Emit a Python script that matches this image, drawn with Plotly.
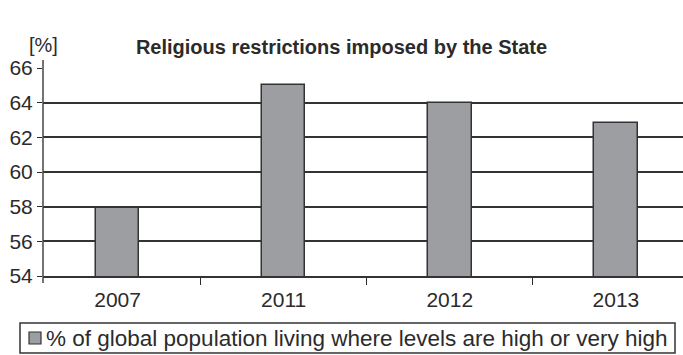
import plotly.graph_objects as go

years = ["2007", "2011", "2012", "2013"]
values = [57.9, 65.0, 64.0, 62.85]
y_ticks = [54, 56, 58, 60, 62, 64, 66]
series_name = "% of global population living where levels are high or very high"
title = "Religious restrictions imposed by the State"

xpos = list(range(len(years)))
FONT = "Liberation Sans, Arial, sans-serif"
DARK = "#2b2b2b"
BAR_FILL = "#9d9ea2"
BAR_LINE = "#333333"

PW, PH = 640, 208  # plot area size in px
L, T = 43, 68


def px_x(px):
    return (px - L) / PW


def px_y(py):
    return (T + PH - py) / PH


fig = go.Figure()
fig.add_trace(go.Bar(
    x=xpos, y=values, base=0, name=series_name, width=0.262,
    marker=dict(color=BAR_FILL, line=dict(color=BAR_LINE, width=1.5)),
    showlegend=False,
))

fig.update_layout(
    width=683, height=355,
    margin=dict(l=L, r=0, t=T, b=355 - T - PH),
    paper_bgcolor="white", plot_bgcolor="white",
    font=dict(family=FONT, size=20, color=DARK),
    title=dict(text="<b>" + title + "</b>", x=0.5, xanchor="center",
               y=1 - 47 / 355, yanchor="middle",
               font=dict(family=FONT, size=20, color=DARK)),
    xaxis=dict(range=[-0.449, 3.404], tickvals=xpos, ticktext=years,
               showgrid=False, zeroline=False, showline=True,
               linecolor="#333333", linewidth=1.5, ticks="",
               ticklabelstandoff=4,
               tickfont=dict(size=21, color=DARK),
               minor=dict(tickvals=[0.5, 1.5, 2.5], ticks="outside",
                          ticklen=7, tickwidth=1.3, tickcolor=DARK,
                          showgrid=False)),
    yaxis=dict(range=[54, 66], tickvals=y_ticks, showgrid=True,
               gridcolor="#333333", gridwidth=1.5, zeroline=False,
               showline=False, ticks="outside", ticklen=5,
               tickcolor=DARK, tickwidth=1.3,
               tickfont=dict(size=21, color=DARK)),
    bargap=0,
    showlegend=False,
)

# y axis line extending slightly beyond the plot area
fig.add_shape(type="line", xref="paper", yref="paper",
              x0=0, x1=0, y0=px_y(283), y1=px_y(60),
              line=dict(color="#444444", width=1.5))

# legend box
fig.add_shape(type="rect", xref="paper", yref="paper",
              x0=px_x(20), x1=px_x(675), y0=px_y(353), y1=px_y(323),
              line=dict(color="#333333", width=1.5), fillcolor="white")
fig.add_shape(type="rect", xref="paper", yref="paper",
              x0=px_x(29), x1=px_x(41), y0=px_y(344), y1=px_y(332),
              line=dict(color=BAR_LINE, width=1.2), fillcolor=BAR_FILL)
fig.add_annotation(text=series_name, xref="paper", yref="paper",
                   x=px_x(44), y=px_y(338), xanchor="left", yanchor="middle",
                   showarrow=False,
                   font=dict(family=FONT, size=22.5, color=DARK))

fig.add_annotation(text="[%]", xref="paper", yref="paper",
                   x=0.0, y=px_y(45), xanchor="center", yanchor="middle",
                   showarrow=False, font=dict(family=FONT, size=20, color=DARK))

fig.write_html("out.html")
